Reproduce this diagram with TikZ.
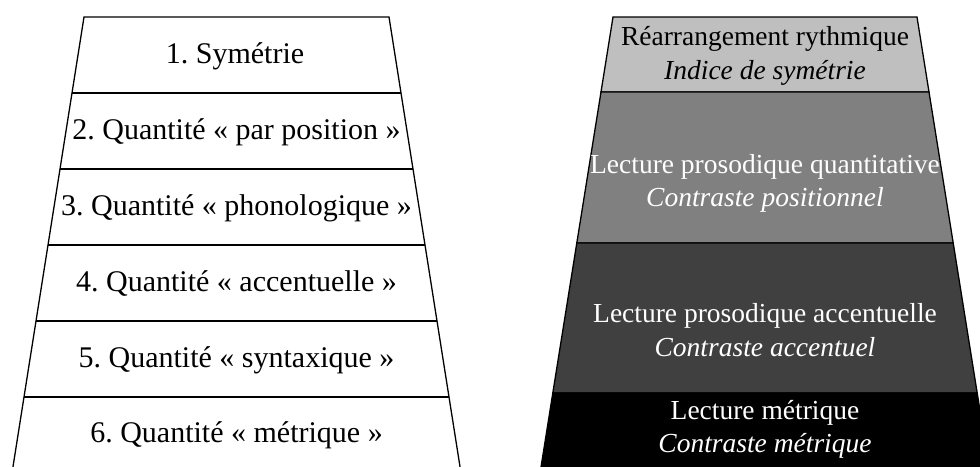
\documentclass[tikz,border=0pt]{standalone}
\usepackage{fontspec}
\setmainfont{Liberation Serif}
\frenchspacing
\definecolor{lvlA}{HTML}{BFBFBF}
\definecolor{lvlB}{HTML}{808080}
\definecolor{lvlC}{HTML}{404040}
\definecolor{lvlD}{HTML}{000000}
\begin{document}
\begin{tikzpicture}[x=1pt,y=-1pt,line width=1.3pt,
  lbl/.style={font=\fontsize{27.5}{33}\selectfont,inner sep=0pt,anchor=base},
  llbl/.style={lbl,font=\fontsize{30}{35}\selectfont},
  wlbl/.style={lbl,text=white},
  edge/.style={draw=black,line width=1.3pt}]
\useasboundingbox (0,0) rectangle (980,466);
\clip (0,0) rectangle (980,466);
% left trapezoid
\draw[edge] (12,473) -- (84,17) -- (389,17) -- (461,473);
\draw[edge] (72,93) -- (401,93);
\draw[edge] (60,169) -- (413,169);
\draw[edge] (48,245) -- (425,245);
\draw[edge] (36,321) -- (437,321);
\draw[edge] (24,397) -- (449,397);
\node[llbl] (l1) at (235,63) {1. Symétrie};
\node[llbl] (l2) at (236.5,139) {2. Quantité « par position »};
\node[llbl] (l3) at (236.5,215) {3. Quantité « phonologique »};
\node[llbl] (l4) at (236.5,291) {4. Quantité « accentuelle »};
\node[llbl] (l5) at (236.5,367) {5. Quantité « syntaxique »};
\node[llbl] (l6) at (236.5,442) {6. Quantité « métrique »};
% right trapezoid
\filldraw[edge,fill=lvlA] (613,17) -- (917,17) -- (929,92) -- (601,92) -- cycle;
\filldraw[edge,fill=lvlB] (601,92) -- (929,92) -- (953.2,243) -- (576.8,243) -- cycle;
\filldraw[edge,fill=lvlC] (576.8,243) -- (953.2,243) -- (977.2,393) -- (552.8,393) -- cycle;
\filldraw[edge,fill=lvlD] (552.8,393) -- (977.2,393) -- (992,486) -- (538,486) -- cycle;
\node[lbl] (r1a) at (765,45) {Réarrangement rythmique};
\node[lbl] (r1b) at (765,79) {\itshape Indice de symétrie};
\node[wlbl] (r2a) at (765,173) {Lecture prosodique quantitative};
\node[wlbl] (r2b) at (765,206) {\itshape Contraste positionnel};
\node[wlbl] (r3a) at (765,322) {Lecture prosodique accentuelle};
\node[wlbl] (r3b) at (765,356) {\itshape Contraste accentuel};
\node[wlbl] (r4a) at (765,419) {Lecture métrique};
\node[wlbl] (r4b) at (765,452) {\itshape Contraste métrique};
\end{tikzpicture}
\end{document}
